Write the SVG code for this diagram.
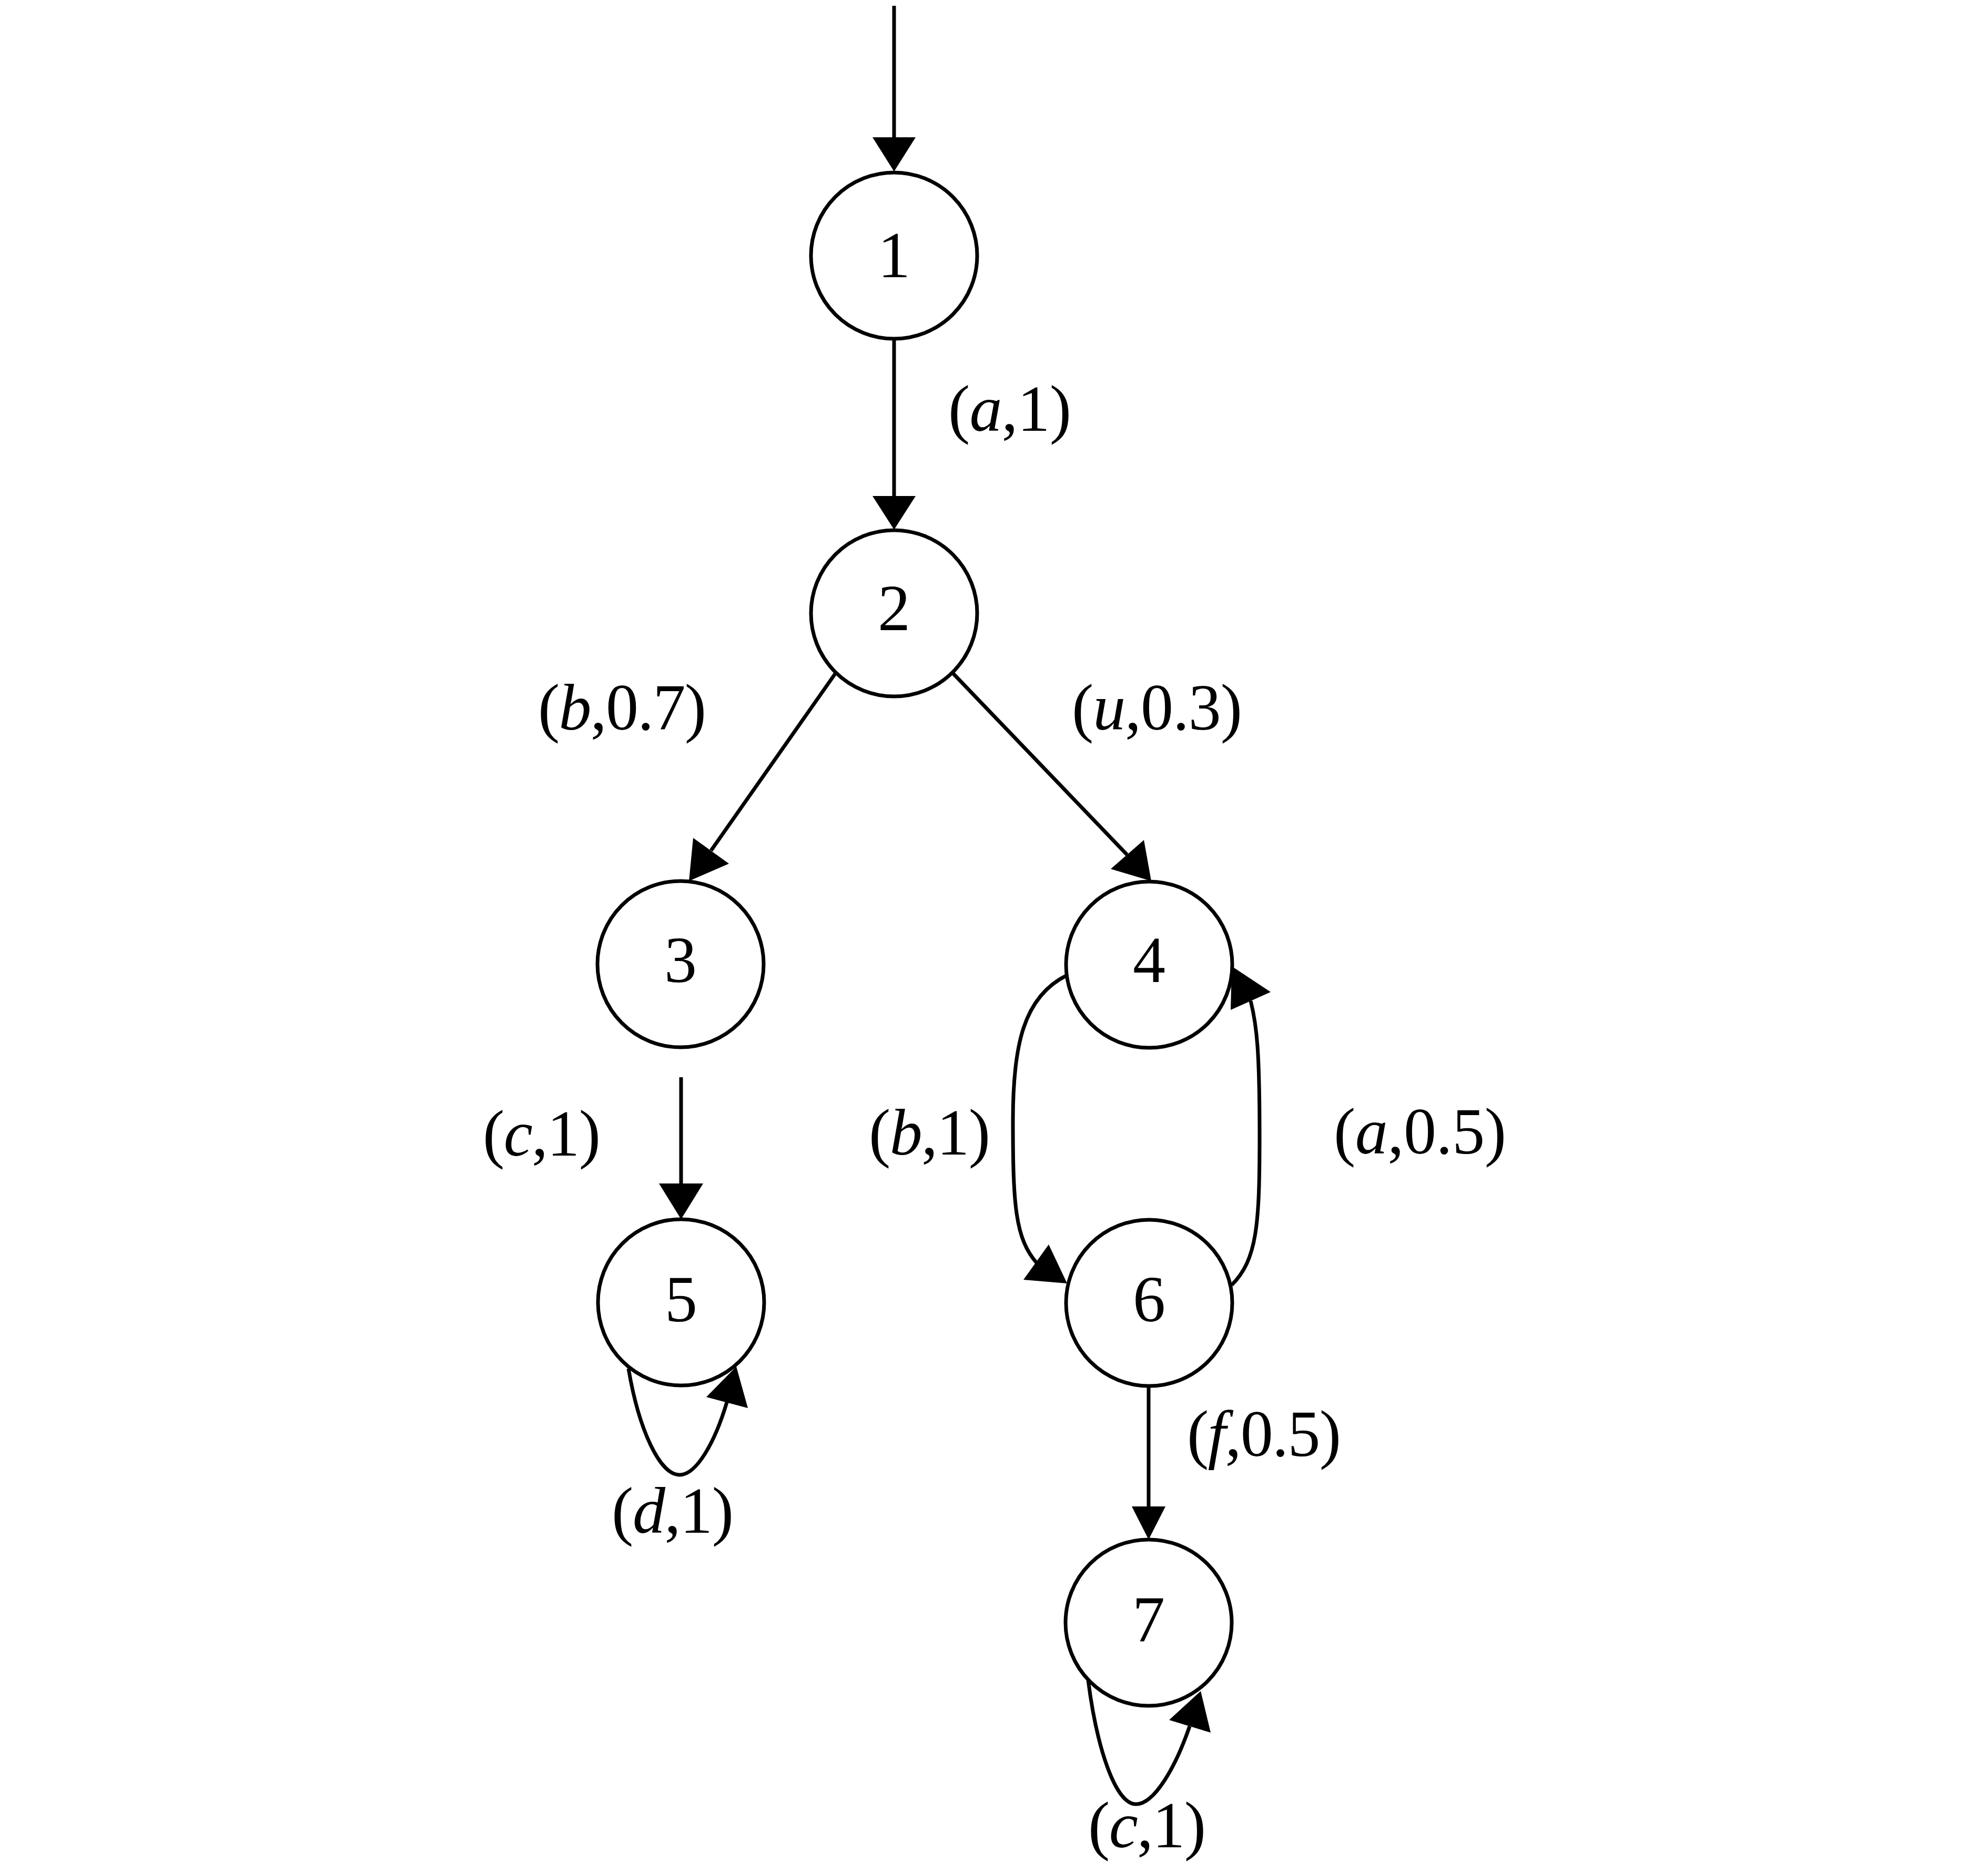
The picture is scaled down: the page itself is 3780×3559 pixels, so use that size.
<svg xmlns="http://www.w3.org/2000/svg" width="3780" height="3559" viewBox="0 0 3780 3559">
<style>
.bg{fill:#ffffff}
.node circle{fill:#ffffff;stroke:#000000;stroke-width:7}
.node text{font-family:"Liberation Serif","Times New Roman",serif;font-size:124px;fill:#000000;text-anchor:middle}
.edge{fill:none;stroke:#000000;stroke-width:7}
.head{fill:#000000;stroke:none}
.lbl{font-family:"Liberation Serif","Times New Roman",serif;font-size:124px;fill:#000000}
.it{font-style:italic}
</style>
<rect class="bg" x="0" y="0" width="3780" height="3559"/>
<g id="connectors">
  <line class="edge" x1="1700" y1="11" x2="1700" y2="264"/>
  <polygon class="head" points="1700,326 1659,261 1741,261"/>
  <line class="edge" x1="1700" y1="644" x2="1700" y2="946"/>
  <polygon class="head" points="1700,1007 1659,943 1741,943"/>
  <line class="edge" x1="1590" y1="1278" x2="1352" y2="1617"/>
  <polygon class="head" points="1310,1675 1318,1593 1386,1642"/>
  <line class="edge" x1="1810" y1="1278" x2="2143" y2="1625"/>
  <polygon class="head" points="2189,1675 2175,1597 2112,1652"/>
  <line class="edge" x1="1295" y1="2048" x2="1295" y2="2252"/>
  <polygon class="head" points="1295,2318 1253,2250 1337,2250"/>
  <path class="edge" d="M 2029,1854 C 1945,1895 1926,1990 1926,2130 C 1926,2290 1930,2355 1972,2402"/>
  <polygon class="head" points="2029,2440 1946,2433 1994,2366"/>
  <path class="edge" d="M 2342,2443 C 2390,2395 2395,2330 2395,2160 C 2395,2000 2390,1950 2378,1903"/>
  <polygon class="head" points="2342,1837 2416,1886 2340,1920"/>
  <line class="edge" x1="2184" y1="2635" x2="2184" y2="2866"/>
  <polygon class="head" points="2184,2927 2152,2864 2216,2864"/>
  <path class="edge" d="M 1195,2602 C 1215,2720 1255,2804 1292,2804 C 1325,2804 1360,2740 1382,2666"/>
  <polygon class="head" points="1400,2598 1343,2656 1422,2677"/>
  <path class="edge" d="M 2069,3194 C 2085,3320 2120,3430 2160,3430 C 2195,3430 2235,3360 2262,3282"/>
  <polygon class="head" points="2283,3215 2223,3270 2302,3294"/>
</g>
<g id="edge-labels">
  <text class="lbl" x="1803" y="819" textLength="234" lengthAdjust="spacing">(<tspan class="it">a</tspan>,1)</text>
  <text class="lbl" x="1023" y="1387" textLength="320" lengthAdjust="spacing">(<tspan class="it">b</tspan>,0.7)</text>
  <text class="lbl" x="2038" y="1387" textLength="324" lengthAdjust="spacing">(<tspan class="it">u</tspan>,0.3)</text>
  <text class="lbl" x="918" y="2197" textLength="224" lengthAdjust="spacing">(<tspan class="it">c</tspan>,1)</text>
  <text class="lbl" x="1652" y="2195" textLength="231" lengthAdjust="spacing">(<tspan class="it">b</tspan>,1)</text>
  <text class="lbl" x="2536" y="2193" textLength="328" lengthAdjust="spacing">(<tspan class="it">a</tspan>,0.5)</text>
  <text class="lbl" x="2257" y="2768" textLength="293" lengthAdjust="spacing">(<tspan class="it">f</tspan>,0.5)</text>
  <text class="lbl" x="1163" y="2914" textLength="232" lengthAdjust="spacing">(<tspan class="it">d</tspan>,1)</text>
  <text class="lbl" x="2069" y="3512" textLength="224" lengthAdjust="spacing">(<tspan class="it">c</tspan>,1)</text>
</g>
<g id="node1" class="node"><circle cx="1700" cy="486" r="158"/><text x="1700" y="527">1</text></g>
<g id="node2" class="node"><circle cx="1700" cy="1166" r="158"/><text x="1700" y="1198">2</text></g>
<g id="node3" class="node"><circle cx="1294" cy="1833" r="158"/><text x="1294" y="1867">3</text></g>
<g id="node4" class="node"><circle cx="2185" cy="1834" r="158"/><text x="2185" y="1867">4</text></g>
<g id="node5" class="node"><circle cx="1295" cy="2476" r="158"/><text x="1295" y="2512">5</text></g>
<g id="node6" class="node"><circle cx="2185" cy="2477" r="158"/><text x="2185" y="2512">6</text></g>
<g id="node7" class="node"><circle cx="2184" cy="3085" r="158"/><text x="2184" y="3121">7</text></g>
</svg>
